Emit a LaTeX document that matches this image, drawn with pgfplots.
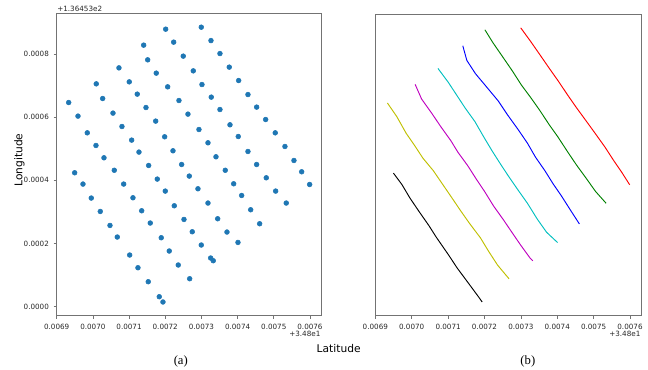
\documentclass[border=0pt]{standalone}
\usepackage{pgfplots}
\usepackage{pgfplotstable}
\pgfplotsset{compat=1.18}
\usepackage{fontspec}
\setmainfont{DejaVu Sans}
\newfontfamily\seriffont{Liberation Serif}
\definecolor{tabblue}{RGB}{31,119,180}
\definecolor{mplk}{RGB}{0,0,0}
\definecolor{mply}{RGB}{191,191,0}
\definecolor{mplm}{RGB}{191,0,191}
\definecolor{mplc}{RGB}{0,191,191}
\definecolor{mplb}{RGB}{0,0,255}
\definecolor{mplg}{RGB}{0,128,0}
\definecolor{mplr}{RGB}{255,0,0}

\pgfplotstableread{
x y
0.0069497 0.0004241
0.0069727 0.0003883
0.0069956 0.0003440
0.0070205 0.0003016
0.0070473 0.0002573
0.0070675 0.0002206
0.0071017 0.0001636
0.0071246 0.0001234
0.0071531 0.0000791
0.0071835 0.0000316
0.0071937 0.0000149
}\tblk
\pgfplotstableread{
x y
0.0069332 0.0006465
0.0069589 0.0006035
0.0069846 0.0005506
0.0070086 0.0005105
0.0070307 0.0004715
0.0070592 0.0004320
0.0070851 0.0003883
0.0071108 0.0003449
0.0071349 0.0003038
0.0071586 0.0002649
0.0071890 0.0002184
0.0072111 0.0001763
0.0072360 0.0001320
0.0072675 0.0000886
}\tyel
\pgfplotstableread{
x y
0.0070094 0.0007057
0.0070271 0.0006592
0.0070556 0.0006130
0.0070804 0.0005706
0.0071072 0.0005275
0.0071274 0.0004896
0.0071542 0.0004472
0.0071780 0.0004041
0.0072001 0.0003661
0.0072250 0.0003196
0.0072518 0.0002763
0.0072747 0.0002373
0.0072996 0.0001953
0.0073255 0.0001541
0.0073327 0.0001456
}\tmag
\pgfplotstableread{
x y
0.0070721 0.0007563
0.0071006 0.0007120
0.0071227 0.0006731
0.0071468 0.0006307
0.0071736 0.0005877
0.0071984 0.0005380
0.0072214 0.0004937
0.0072454 0.0004503
0.0072664 0.0004136
0.0072904 0.0003734
0.0073181 0.0003282
0.0073449 0.0002785
0.0073706 0.0002364
0.0074010 0.0002035
}\tcya
\pgfplotstableread{
x y
0.0071404 0.0008282
0.0071515 0.0007817
0.0071752 0.0007396
0.0072067 0.0006962
0.0072379 0.0006529
0.0072628 0.0006098
0.0072932 0.0005611
0.0073181 0.0005190
0.0073402 0.0004747
0.0073659 0.0004320
0.0073891 0.0003892
0.0074112 0.0003522
0.0074361 0.0003070
0.0074609 0.0002627
}\tblu
\pgfplotstableread{
x y
0.0072012 0.0008788
0.0072233 0.0008377
0.0072498 0.0007934
0.0072775 0.0007468
0.0073015 0.0007035
0.0073272 0.0006636
0.0073512 0.0006244
0.0073789 0.0005760
0.0074018 0.0005389
0.0074286 0.0004915
0.0074526 0.0004503
0.0074792 0.0004082
0.0075051 0.0003661
0.0075344 0.0003282
}\tgre
\pgfplotstableread{
x y
0.0072996 0.0008851
0.0073264 0.0008427
0.0073512 0.0008016
0.0073769 0.0007586
0.0074029 0.0007161
0.0074286 0.0006718
0.0074526 0.0006320
0.0074775 0.0005927
0.0075040 0.0005506
0.0075308 0.0005073
0.0075557 0.0004630
0.0075770 0.0004272
0.0075991 0.0003870
}\tred

\pgfplotsset{
  myax/.style={
    scale only axis,
    anchor=south west,
    xmin=0.0069, xmax=0.0076323,
    ymin=-0.0000286, ymax=0.0009290,
    axis line style={black!55, line width=0.6pt},
    tick style={black!55, line width=0.5pt},
    major tick length=2.3pt,
    tick align=outside,
    xtick pos=bottom, ytick pos=left,
    scaled ticks=false,
    xtick={0.0069,0.0070,0.0071,0.0072,0.0073,0.0074,0.0075,0.0076},
    xticklabels={0.0069,0.0070,0.0071,0.0072,0.0073,0.0074,0.0075,0.0076},
    tick label style={font=\fontsize{5.4}{6.5}\selectfont, text=black!85},
    xticklabel style={yshift=-0.3pt},
  },
  dot/.style={only marks, mark=*, mark size=1.8pt, color=tabblue},
}

\begin{document}
\begin{tikzpicture}
\useasboundingbox (0,0) rectangle (486pt,277.5pt);

\begin{axis}[myax, at={(42.5pt,40.7pt)}, width=198.75pt, height=226.8pt,
  ytick={0,0.0002,0.0004,0.0006,0.0008},
  yticklabels={0.0000,0.0002,0.0004,0.0006,0.0008}]
\addplot[dot] table[x=x,y=y] {\tblk};
\addplot[dot] table[x=x,y=y] {\tyel};
\addplot[dot] table[x=x,y=y] {\tmag};
\addplot[dot] table[x=x,y=y] {\tcya};
\addplot[dot] table[x=x,y=y] {\tblu};
\addplot[dot] table[x=x,y=y] {\tgre};
\addplot[dot] table[x=x,y=y] {\tred};
\end{axis}

\begin{axis}[myax, at={(281.5pt,40.7pt)}, width=199.8pt, height=226.3pt,
  ytick=\empty]
\addplot[mplk, line width=0.7pt] table[x=x,y=y] {\tblk};
\addplot[mply, line width=0.7pt] table[x=x,y=y] {\tyel};
\addplot[mplm, line width=0.7pt] table[x=x,y=y] {\tmag};
\addplot[mplc, line width=0.7pt] table[x=x,y=y] {\tcya};
\addplot[mplb, line width=0.7pt] table[x=x,y=y] {\tblu};
\addplot[mplg, line width=0.7pt] table[x=x,y=y] {\tgre};
\addplot[mplr, line width=0.7pt] table[x=x,y=y] {\tred};
\end{axis}

\node[anchor=west, font=\fontsize{5.4}{6.5}\selectfont, text=black!85, inner sep=0pt] at (42.8pt,270.5pt) {+1.36453e2};
\node[anchor=east, font=\fontsize{5.4}{6.5}\selectfont, text=black!85, inner sep=0pt] at (240.5pt,27.3pt) {+3.48e1};
\node[anchor=east, font=\fontsize{5.4}{6.5}\selectfont, text=black!85, inner sep=0pt] at (480.5pt,27.3pt) {+3.48e1};
\node[font=\fontsize{8}{9.5}\selectfont, inner sep=0pt] at (254pt,16.3pt) {Latitude};
\node[font=\fontsize{8}{9.5}\selectfont, inner sep=0pt, rotate=90] at (14.5pt,157.5pt) {Longitude};
\node[font=\seriffont\fontsize{9.5}{11}\selectfont, inner sep=0pt] at (135.6pt,6.5pt) {(a)};
\node[font=\seriffont\fontsize{9.5}{11}\selectfont, inner sep=0pt] at (395.9pt,6.5pt) {(b)};
\end{tikzpicture}
\end{document}
